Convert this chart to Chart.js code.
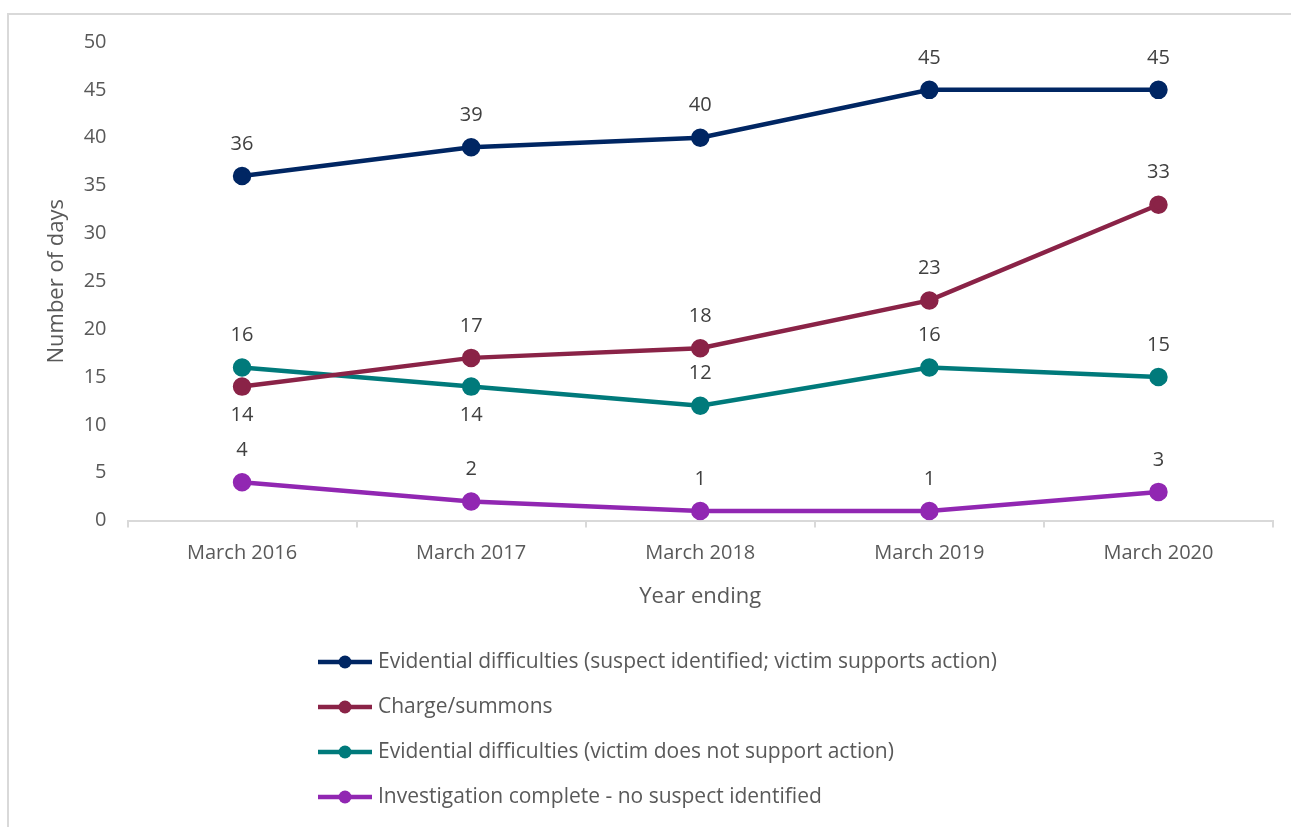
<!DOCTYPE html>
<html lang="en">
<head>
  <meta charset="UTF-8">
  <title>Number of days by outcome</title>
  <script src="https://cdn.jsdelivr.net/npm/chart.js"></script>
  <style>
    body { margin: 0; background: #fff; }
    canvas { display: block; }
  </style>
</head>
<body>
  <canvas id="daysChart" width="1291" height="827"></canvas>

  <script>
    const years = ['March 2016', 'March 2017', 'March 2018', 'March 2019', 'March 2020'];
    const seriesNames = [
      'Evidential difficulties (suspect identified; victim supports action)',
      'Charge/summons',
      'Evidential difficulties (victim does not support action)',
      'Investigation complete - no suspect identified'
    ];
    const evidentialSupports = [36, 39, 40, 45, 45];
    const chargeSummons = [14, 17, 18, 23, 33];
    const evidentialNoSupport = [16, 14, 12, 16, 15];
    const noSuspect = [4, 2, 1, 1, 3];
    const colours = ['#002663', '#8a2347', '#007a7b', '#9127b2'];
    // which labels sit under the point instead of above
    const labelBelow = [[], [0], [1], []];

    const FONT = '"Open Sans", Lato, sans-serif';
    const TEXT = '#595959';

    const valueLabels = {
      id: 'valueLabels',
      afterDatasetsDraw(chart) {
        const ctx = chart.ctx;
        ctx.save();
        ctx.font = '20px ' + FONT;
        ctx.fillStyle = '#404040';
        ctx.textAlign = 'center';
        ctx.textBaseline = 'middle';
        chart.data.datasets.forEach((ds, i) => {
          chart.getDatasetMeta(i).data.forEach((pt, j) => {
            const below = labelBelow[i].includes(j);
            ctx.fillText(ds.data[j], pt.x, below ? pt.y + 29 : pt.y - 32);
          });
        });
        ctx.restore();
      }
    };

    const frameAndLegend = {
      id: 'frameAndLegend',
      beforeDraw(chart) {
        const ctx = chart.ctx;
        ctx.save();
        ctx.strokeStyle = '#d9d9d9';
        ctx.lineWidth = 2;
        ctx.beginPath();
        ctx.moveTo(8, 827);
        ctx.lineTo(8, 14);
        ctx.lineTo(1291, 14);
        ctx.stroke();
        ctx.restore();
      },
      afterDraw(chart) {
        const ctx = chart.ctx;
        ctx.save();
        ctx.font = '21px ' + FONT;
        ctx.textBaseline = 'middle';
        chart.data.datasets.forEach((ds, i) => {
          const y = 662 + i * 45;
          ctx.strokeStyle = ds.borderColor;
          ctx.lineWidth = 4.5;
          ctx.beginPath();
          ctx.moveTo(318, y);
          ctx.lineTo(372, y);
          ctx.stroke();
          ctx.fillStyle = ds.borderColor;
          ctx.beginPath();
          ctx.arc(345, y, 6.5, 0, Math.PI * 2);
          ctx.fill();
          ctx.fillStyle = TEXT;
          ctx.fillText(ds.label, 378, y);
        });
        ctx.restore();
      }
    };

    const seriesData = [evidentialSupports, chargeSummons, evidentialNoSupport, noSuspect];

    new Chart(document.getElementById('daysChart').getContext('2d'), {
      type: 'line',
      data: {
        labels: years,
        datasets: seriesData.map((vals, i) => ({
          label: seriesNames[i],
          data: vals,
          borderColor: colours[i],
          backgroundColor: colours[i],
          pointBackgroundColor: colours[i],
          pointBorderColor: colours[i],
          borderWidth: 4.5,
          pointRadius: 7,
          fill: false,
          tension: 0
        }))
      },
      options: {
        responsive: false,
        animation: false,
        layout: { padding: { left: 0, right: 18, top: 42, bottom: 213 } },
        plugins: {
          legend: { display: false },
          tooltip: { enabled: false }
        },
        scales: {
          x: {
            offset: true,
            grid: { offset: true, drawOnChartArea: false, color: '#d9d9d9', lineWidth: 2, tickLength: 7 },
            border: { color: '#d9d9d9', width: 2 },
            ticks: { color: TEXT, font: { family: FONT, size: 20 }, padding: 14 },
            title: { display: true, text: 'Year ending', color: TEXT, font: { family: FONT, size: 22 }, padding: { top: 4 } }
          },
          y: {
            min: 0,
            max: 50,
            ticks: { stepSize: 5, color: TEXT, font: { family: FONT, size: 20 }, padding: 13 },
            grid: { display: false },
            border: { display: false },
            title: { display: true, text: 'Number of days', color: TEXT, font: { family: FONT, size: 22 }, padding: { top: 44, bottom: 0 } },
            afterFit(scale) { scale.width = 127.5; }
          }
        }
      },
      plugins: [valueLabels, frameAndLegend]
    });
  </script>
</body>
</html>
